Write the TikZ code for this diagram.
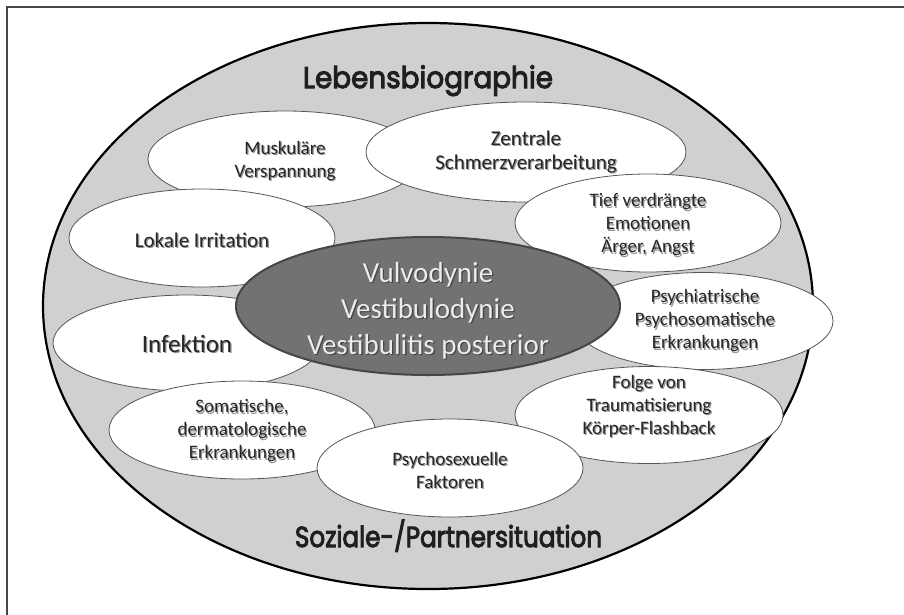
\documentclass[tikz,border=0pt]{standalone}
\usepackage{graphicx}
\usepackage{fontspec}
\setmainfont{Carlito}
\newfontfamily\titlefont{Poppins}[FakeBold=3.5]
\usetikzlibrary{shapes.geometric}
\definecolor{bigfill}{RGB}{207,208,210}
\definecolor{darkfill}{RGB}{114,114,116}
\definecolor{darkline}{RGB}{70,70,70}
\definecolor{wline}{RGB}{85,85,85}
\definecolor{txt}{RGB}{38,38,38}
\definecolor{shadowcol}{RGB}{150,150,150}
\definecolor{ctxt}{RGB}{236,236,236}
\definecolor{cshadow}{RGB}{70,70,70}
\definecolor{framecol}{RGB}{70,70,70}
% #1 ellipse name, #2 dx, #3 dy, #4 options, #5 text
\newcommand{\lbltext}[5]{%
  \node[lbl,#4,text=shadowcol] (#1-s) at ([xshift=#2+1.2pt,yshift=#3-1.2pt]#1.center) {#5};
  \node[lbl,#4] (#1-t) at ([xshift=#2,yshift=#3]#1.center) {#5};}
\begin{document}
\begin{tikzpicture}[x=1pt,y=-1pt,
  frame/.style={draw=framecol, line width=1.2pt},
  wbox/.style={ellipse, draw=wline, line width=0.8pt, fill=white, inner sep=0pt},
  lbl/.style={align=center, text=txt, font=\fontsize{19}{23}\selectfont, inner sep=0pt},
  ttl/.style={text=black!88, font=\titlefont\fontsize{29}{33}\selectfont, inner sep=0pt, anchor=base},
]
\useasboundingbox (0,0) rectangle (904,614);
\coordinate (fa) at (7,620);
\coordinate (fb) at (7,7);
\coordinate (fc) at (910,7);
\draw[frame] (fa) -- (fb) -- (fc);

\node[ellipse, draw=black, line width=2.2pt, fill=bigfill, minimum width=770pt, minimum height=566pt, inner sep=0pt] (outer) at (428,306) {};

\node[wbox, minimum width=274pt, minimum height=96pt] (musk) at (285,159) {};
\lbltext{musk}{0pt}{-2pt}{}{Muskuläre\\Verspannung}

\node[wbox, minimum width=266pt, minimum height=98pt] (lokal) at (202,238) {};
\lbltext{lokal}{0pt}{-2pt}{font=\fontsize{21}{25}\selectfont}{Lokale Irritation}

\node[wbox, minimum width=320pt, minimum height=100pt] (zent) at (526,152) {};
\lbltext{zent}{0pt}{0pt}{font=\fontsize{21}{24}\selectfont}{Zentrale\\Schmerzverarbeitung}

\node[wbox, minimum width=266pt, minimum height=98pt] (tief) at (648,223) {};
\lbltext{tief}{0pt}{-2pt}{}{Tief verdrängte\\Emotionen\\Ärger, Angst}

\node[wbox, minimum width=268pt, minimum height=96pt] (infekt) at (187,343) {};
\lbltext{infekt}{0pt}{-1pt}{font=\fontsize{25}{30}\selectfont}{Infektion}

\node[wbox, minimum width=266pt, minimum height=98pt] (soma) at (242,430) {};
\lbltext{soma}{0pt}{-1pt}{}{Somatische,\\dermatologische\\Erkrankungen}

\node[wbox, minimum width=260pt, minimum height=97pt] (psychi) at (703,321) {};
\lbltext{psychi}{2pt}{0pt}{}{Psychiatrische\\Psychosomatische\\Erkrankungen}

\node[wbox, minimum width=268pt, minimum height=97pt] (folge) at (649,415) {};
\lbltext{folge}{0pt}{9pt}{}{Folge von\\Traumatisierung\\Körper-Flashback}

\node[wbox, minimum width=266pt, minimum height=98pt] (psex) at (450,468) {};
\lbltext{psex}{0pt}{-2pt}{}{Psychosexuelle\\Faktoren}

\node[ellipse, draw=darkline, line width=2pt, fill=darkfill, minimum width=384pt, minimum height=138pt, inner sep=0pt] (core) at (428,306) {};
\node[align=center, text=cshadow, font=\fontsize{29}{36}\selectfont, inner sep=0pt] (core-s) at ([xshift=1.3pt,yshift=-5.8pt]core.center) {Vulvodynie\\Vestibulodynie\\Vestibulitis posterior};
\node[align=center, text=ctxt, font=\fontsize{29}{36}\selectfont, inner sep=0pt] (core-t) at ([yshift=-4.5pt]core.center) {Vulvodynie\\Vestibulodynie\\Vestibulitis posterior};

\node[ttl] (top) at (428,88) {\scalebox{0.96}[1.03]{Lebensbiographie}};
\node[ttl] (bottom) at (448.5,547) {\scalebox{0.85}[1.0]{Soziale-/Partnersituation}};
\end{tikzpicture}
\end{document}
